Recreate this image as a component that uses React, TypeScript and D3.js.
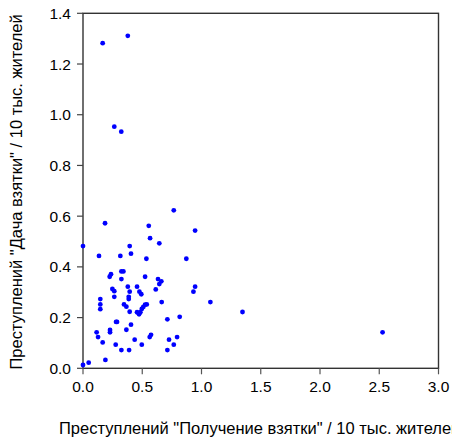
import React from "react";
import * as d3 from "d3";

const xValues: number[] = [
  0.166, 0.378, 0.264, 0.323,
  0.0, 0.186, 0.135, 0.0, 0.048, 0.189, 0.115, 0.127, 0.166, 0.146,
  0.146, 0.146, 0.228, 0.228, 0.225, 0.236, 0.248, 0.264, 0.264, 0.279,
  0.287, 0.276, 0.324, 0.315, 0.324, 0.324, 0.341, 0.346, 0.366, 0.366,
  0.389, 0.378, 0.394, 0.386, 0.386, 0.394, 0.405, 0.394, 0.405, 0.436,
  0.456, 0.476, 0.492, 0.456, 0.473, 0.484, 0.496, 0.509, 0.524, 0.538,
  0.496, 0.524, 0.535, 0.555, 0.566, 0.574, 0.563, 0.614, 0.633, 0.644,
  0.661, 0.644, 0.664, 0.712, 0.726, 0.712, 0.766, 0.794, 0.766, 0.816,
  0.872, 0.932, 0.946, 0.946, 1.075, 1.346, 2.528,
];
const yValues: number[] = [
  1.282, 1.311, 0.953, 0.933,
  0.482, 0.572, 0.443, 0.013, 0.022, 0.033, 0.142, 0.123, 0.102, 0.273,
  0.252, 0.233, 0.151, 0.142, 0.361, 0.371, 0.313, 0.304, 0.282, 0.183,
  0.183, 0.093, 0.072, 0.443, 0.352, 0.382, 0.382, 0.252, 0.243, 0.152,
  0.072, 0.322, 0.302, 0.282, 0.273, 0.223, 0.172, 0.482, 0.452, 0.113,
  0.322, 0.302, 0.292, 0.221, 0.213, 0.221, 0.234, 0.242, 0.251, 0.252,
  0.093, 0.361, 0.432, 0.562, 0.513, 0.132, 0.123, 0.311, 0.352, 0.332,
  0.343, 0.493, 0.261, 0.193, 0.113, 0.072, 0.093, 0.123, 0.623, 0.203,
  0.432, 0.302, 0.322, 0.543, 0.261, 0.222, 0.142,
];
const xTicks: number[] = [0, 0.5, 1, 1.5, 2, 2.5, 3];
const yTicks: number[] = [0, 0.2, 0.4, 0.6, 0.8, 1.0, 1.2, 1.4];
const xTitle = 'Преступлений "Получение взятки" / 10 тыс. жителей';
const yTitle = 'Преступлений "Дача взятки" / 10 тыс. жителей';

const W = 452;
const H = 441;
const L = 83, R = 438.5, T = 13.3, B = 368.3;
const FONT = "'Liberation Sans', Arial, sans-serif";

export default function App() {
  const x = d3.scaleLinear().domain([0, 3]).range([L, R]);
  const y = d3.scaleLinear().domain([0, 1.4]).range([B, T]);
  const fmt = d3.format(".1f");
  const pts = xValues.map((v, i) => [v, yValues[i]] as [number, number]);
  return (
    <svg
      width={W}
      height={H}
      style={{ position: "absolute", left: 0, top: 0, background: "#fff" }}
      fontFamily={FONT}
    >
      <rect x={0} y={0} width={W} height={H} fill="#fff" />
      <rect x={L} y={T} width={R - L} height={B - T} fill="none" stroke="#333" strokeWidth={1.4} />
      {yTicks.map((t) => (
        <g key={"y" + t}>
          <line x1={L - 6} x2={L} y1={y(t)} y2={y(t)} stroke="#444" strokeWidth={1.2} />
          <text x={L - 12} y={y(t)} dy="0.36em" textAnchor="end" fontSize={15.5} fill="#000">
            {fmt(t)}
          </text>
        </g>
      ))}
      {xTicks.map((t) => (
        <g key={"x" + t}>
          <line x1={x(t)} x2={x(t)} y1={B} y2={B + 6} stroke="#555" strokeWidth={1.2} />
          <text x={x(t)} y={392} textAnchor="middle" fontSize={15.5} fill="#000">
            {fmt(t)}
          </text>
        </g>
      ))}
      {pts.map((p, i) => (
        <circle key={i} cx={x(p[0])} cy={y(p[1])} r={2.4} fill="#0000ff" />
      ))}
      <text x={59} y={433.5} textAnchor="start" fontSize={16.5} fill="#000">
        {xTitle}
      </text>
      <text
        transform={`translate(22, 369.5) rotate(-90)`}
        textAnchor="start"
        fontSize={16.5}
        fill="#000"
      >
        {yTitle}
      </text>
    </svg>
  );
}
